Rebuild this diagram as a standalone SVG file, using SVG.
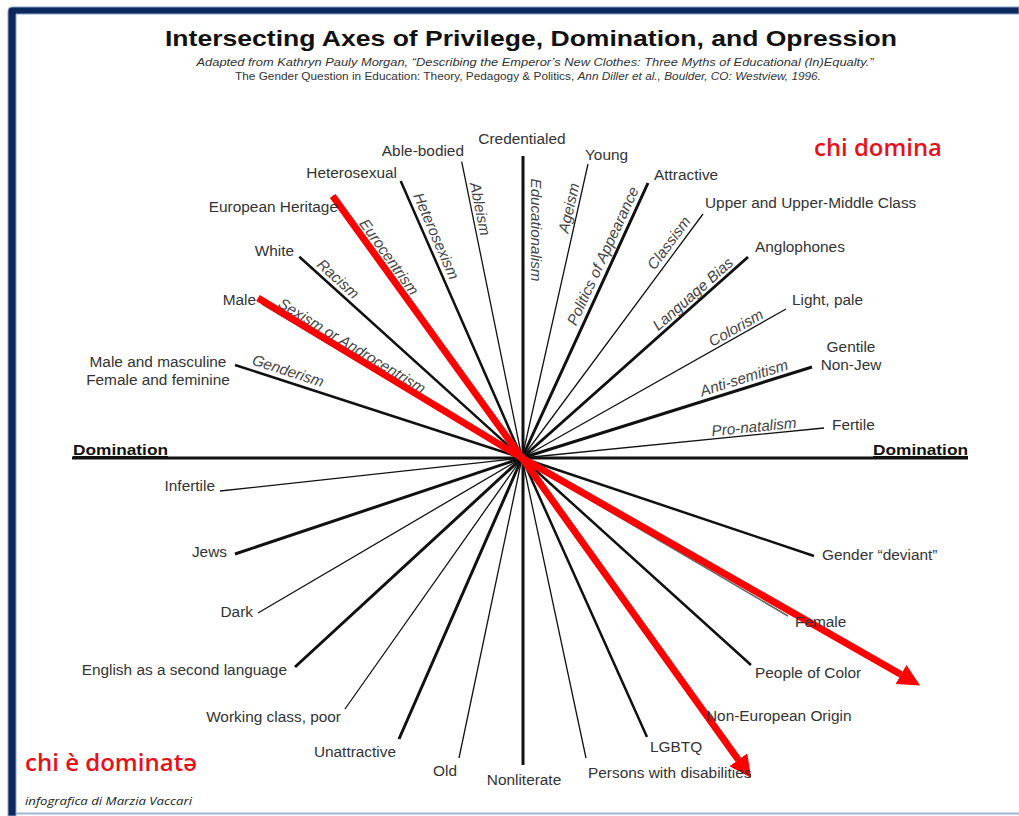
<svg xmlns="http://www.w3.org/2000/svg" width="1019" height="816" viewBox="0 0 1019 816">
<style>
.lbl{font-family:"Liberation Sans",Arial,sans-serif;font-size:15.4px;fill:#333}
.ax{font-family:"Liberation Sans",Arial,sans-serif;font-size:15.2px;font-style:italic;fill:#444}
.dom{font-family:"Liberation Sans",Arial,sans-serif;font-size:15px;font-weight:bold;fill:#111;text-decoration:underline}
.ray{fill:none;stroke:#111;stroke-linecap:butt;stroke-linejoin:round}
.thick{stroke-width:3}
.mid{stroke-width:2.5}
.thin{stroke-width:1.3}
.red{fill:none;stroke:#ff0000;stroke-width:7;stroke-linejoin:round}
.note{font-family:"Open Sans","Noto Sans",sans-serif;font-weight:600;font-size:23px;fill:#e8101a}
</style>
<defs>
<marker id="ah" markerUnits="userSpaceOnUse" markerWidth="22" markerHeight="22" viewBox="0 0 20 20" refX="0" refY="10" orient="auto">
<path d="M0,0 L20,10 L0,20 z" fill="#ff0000"/>
</marker>
</defs>
<rect x="0" y="0" width="1019" height="816" fill="#ffffff"/>
<g id="frame">
<path d="M8,816 L8,11 Q8,7 12,7 L1019,7 L1019,14 L16,14 L16,816 z" fill="#0c285c" stroke="#8aa0c8" stroke-width="1"/>
<line x1="16" y1="813.5" x2="1019" y2="813.5" stroke="#9fb3d3" stroke-width="2"/>
</g>
<g id="title">
<text x="531" y="46" text-anchor="middle" font-family="Liberation Sans,Arial,sans-serif" font-size="22" font-weight="bold" fill="#111" textLength="732" lengthAdjust="spacingAndGlyphs">Intersecting Axes of Privilege, Domination, and Opression</text>
<text x="535" y="66" text-anchor="middle" font-family="Liberation Sans,Arial,sans-serif" font-size="10" font-style="italic" fill="#333" textLength="677" lengthAdjust="spacingAndGlyphs">Adapted from Kathryn Pauly Morgan, “Describing the Emperor’s New Clothes: Three Myths of Educational (In)Equalty.”</text>
<text x="528" y="80" text-anchor="middle" font-family="Liberation Sans,Arial,sans-serif" font-size="10" fill="#333" textLength="586" lengthAdjust="spacingAndGlyphs">The Gender Question in Education: Theory, Pedagogy &amp; Politics, <tspan font-style="italic">Ann Diller et al., Boulder, CO: Westview, 1996.</tspan></text>
</g>
<g id="connectors">
<line x1="72" y1="458" x2="968" y2="458" class="ray thick"/>
<path d="M523,156 L523,765" class="ray thick"/>
<path d="M461.7,161.7 L522,458 L586,758" class="ray thin"/>
<path d="M400.7,181 L522,458 L647,737" class="ray mid"/>
<path d="M332.7,196 L522,458 L750,776" class="ray mid"/>
<path d="M299.3,256.7 L522,458 L751,665" class="ray mid"/>
<path d="M262,304 L522,460 L788,616" fill="none" stroke="#666" stroke-width="1.6"/>
<path d="M235,365 L522,458 L814,556" class="ray mid"/>
<path d="M588,164 L522,458 L459,758" class="ray thin"/>
<path d="M648,183 L522,458 L399,739" class="ray thick"/>
<path d="M703,214 L522,458 L345,709" class="ray thin"/>
<path d="M748,257 L522,458 L295,667" class="ray thick"/>
<path d="M786,309 L522,458 L258,613" class="ray thin"/>
<path d="M812,367 L522,458 L235,554" class="ray thick"/>
<path d="M824,428 L522,458 L220,491" class="ray thin"/>
</g>
<g id="axis-labels">
<text class="ax" text-anchor="middle" y="5" transform="translate(480,209) rotate(78.5)">Ableism</text>
<text class="ax" text-anchor="middle" y="5" transform="translate(436,236) rotate(66.5)">Heterosexism</text>
<text class="ax" text-anchor="middle" y="5" transform="translate(389,257) rotate(54.3)">Eurocentrism</text>
<text class="ax" text-anchor="middle" y="5" transform="translate(338,279) rotate(42.2)">Racism</text>
<text class="ax" text-anchor="middle" y="5" transform="translate(352,346) rotate(31.3)">Sexism or Androcentrism</text>
<text class="ax" text-anchor="middle" y="5" transform="translate(288,371) rotate(18)">Genderism</text>
<text class="ax" text-anchor="middle" y="5" transform="translate(536,230) rotate(90)">Educationalism</text>
<text class="ax" text-anchor="middle" y="5" transform="translate(569,208) rotate(-77.2)">Ageism</text>
<text class="ax" text-anchor="middle" y="5" transform="translate(603,256) rotate(-65.2)">Politics of Appearance</text>
<text class="ax" text-anchor="middle" y="5" transform="translate(669,243) rotate(-53.3)">Classism</text>
<text class="ax" text-anchor="middle" y="5" transform="translate(693,294) rotate(-41.5)">Language Bias</text>
<text class="ax" text-anchor="middle" y="5" transform="translate(736,328) rotate(-29.4)">Colorism</text>
<text class="ax" text-anchor="middle" y="5" transform="translate(744,378) rotate(-17.4)">Anti-semitism</text>
<text class="ax" text-anchor="middle" y="5" transform="translate(754,427) rotate(-5.7)">Pro-natalism</text>
</g>
<g id="red-arrows">
<path d="M332.7,196 L522,458 L738.3,759.8" class="red" marker-end="url(#ah)"/>
<path d="M258,298 L522,458 L901,674.5" class="red" marker-end="url(#ah)"/>
</g>
<g id="n-domination-left"><text class="dom" x="73" y="455" textLength="95" lengthAdjust="spacingAndGlyphs">Domination</text></g>
<g id="n-domination-right"><text class="dom" x="873" y="455" textLength="95" lengthAdjust="spacingAndGlyphs">Domination</text></g>
<g id="n-credentialed"><text class="lbl" x="522" y="144" text-anchor="middle">Credentialed</text></g>
<g id="n-able-bodied"><text class="lbl" x="464" y="156" text-anchor="end">Able-bodied</text></g>
<g id="n-heterosexual"><text class="lbl" x="397" y="178" text-anchor="end">Heterosexual</text></g>
<g id="n-european"><text class="lbl" x="338" y="212" text-anchor="end">European Heritage</text></g>
<g id="n-white"><text class="lbl" x="294" y="256" text-anchor="end">White</text></g>
<g id="n-male"><text class="lbl" x="256" y="305" text-anchor="end">Male</text></g>
<g id="n-masculine"><text class="lbl" x="158" y="367" text-anchor="middle">Male and masculine</text><text class="lbl" x="158" y="385" text-anchor="middle">Female and feminine</text></g>
<g id="n-infertile"><text class="lbl" x="215" y="491" text-anchor="end">Infertile</text></g>
<g id="n-jews"><text class="lbl" x="227" y="557" text-anchor="end">Jews</text></g>
<g id="n-dark"><text class="lbl" x="253" y="617" text-anchor="end">Dark</text></g>
<g id="n-esl"><text class="lbl" x="287" y="675" text-anchor="end">English as a second language</text></g>
<g id="n-working"><text class="lbl" x="341" y="722" text-anchor="end">Working class, poor</text></g>
<g id="n-unattractive"><text class="lbl" x="396" y="757" text-anchor="end">Unattractive</text></g>
<g id="n-old"><text class="lbl" x="445" y="776" text-anchor="middle">Old</text></g>
<g id="n-nonliterate"><text class="lbl" x="524" y="785" text-anchor="middle">Nonliterate</text></g>
<g id="n-disabilities"><text class="lbl" x="588" y="778">Persons with disabilities</text></g>
<g id="n-lgbtq"><text class="lbl" x="650" y="752">LGBTQ</text></g>
<g id="n-non-european"><text class="lbl" x="706" y="721">Non-European Origin</text></g>
<g id="n-people-of-color"><text class="lbl" x="755" y="678">People of Color</text></g>
<g id="n-female"><text class="lbl" x="795" y="627">Female</text></g>
<g id="n-gender-deviant"><text class="lbl" x="822" y="560">Gender “deviant”</text></g>
<g id="n-young"><text class="lbl" x="585" y="160">Young</text></g>
<g id="n-attractive"><text class="lbl" x="654" y="180">Attractive</text></g>
<g id="n-upper"><text class="lbl" x="705" y="208">Upper and Upper-Middle Class</text></g>
<g id="n-anglophones"><text class="lbl" x="755" y="252">Anglophones</text></g>
<g id="n-light"><text class="lbl" x="792" y="305">Light, pale</text></g>
<g id="n-gentile"><text class="lbl" x="851" y="352" text-anchor="middle">Gentile</text><text class="lbl" x="851" y="370" text-anchor="middle">Non-Jew</text></g>
<g id="n-fertile"><text class="lbl" x="832" y="430">Fertile</text></g>
<g id="notes">
<text class="note" x="814" y="156" textLength="128" lengthAdjust="spacingAndGlyphs">chi domina</text>
<text class="note" x="25" y="771" textLength="172" lengthAdjust="spacingAndGlyphs">chi è dominatə</text>
<text x="25" y="805" font-family="Open Sans,Noto Sans,sans-serif" font-size="11" font-style="italic" fill="#222" textLength="167" lengthAdjust="spacingAndGlyphs">infografica di Marzia Vaccari</text>
</g>
</svg>
